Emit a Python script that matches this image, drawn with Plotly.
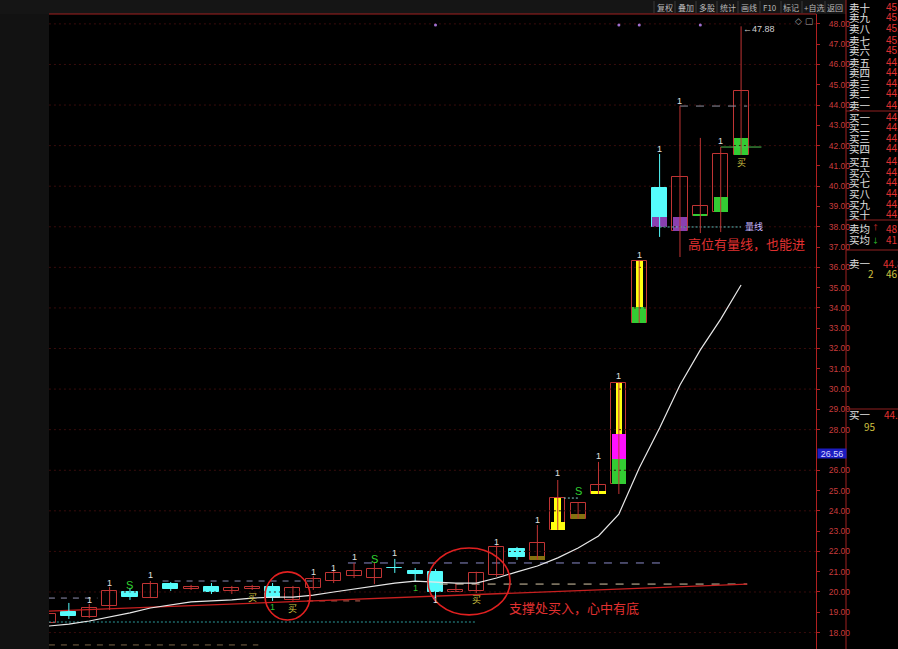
import plotly.graph_objects as go

W, H = 898, 649

# ---------------- data ----------------
idx = list(range(35))
opens  = [18.47, 19.01, 18.77, 19.31, 20.00, 19.70, 20.39, 20.15, 20.25, 20.05,
          20.15, 20.25, 19.61, 20.20, 20.54, 20.79, 20.69, 21.20, 21.03, 20.99,
          20.00, 20.05, 20.84, 22.12, 21.58, 23.06, 23.60, 24.83, 25.32, 33.26,
          39.91, 37.79, 38.53, 38.73, 41.54]
closes = [18.92, 18.82, 19.21, 20.05, 19.75, 20.39, 20.15, 20.25, 20.00, 20.20,
          20.25, 19.70, 20.20, 20.64, 20.94, 21.03, 21.13, 21.16, 20.89, 20.00,
          20.10, 20.94, 22.22, 21.72, 22.41, 24.63, 24.39, 25.27, 30.30, 36.31,
          37.99, 40.45, 39.02, 41.59, 44.69]
highs  = [18.97, 19.46, 19.41, 20.25, 20.20, 20.54, 20.49, 20.35, 20.44, 20.30,
          20.35, 20.44, 20.30, 20.79, 21.08, 21.43, 21.48, 21.63, 21.18, 21.13,
          20.44, 21.00, 22.30, 22.22, 23.30, 25.52, 24.39, 26.41, 30.30, 36.31,
          41.59, 43.95, 42.38, 41.93, 47.88]
lows   = [18.42, 18.67, 18.72, 19.11, 19.61, 19.70, 20.05, 20.10, 19.90, 19.90,
          20.10, 19.56, 19.56, 20.10, 20.44, 20.69, 20.39, 20.94, 20.54, 19.70,
          20.00, 19.95, 20.75, 21.58, 21.58, 23.06, 23.60, 24.83, 24.83, 33.26,
          37.50, 36.51, 37.69, 37.74, 41.54]
ma_line = [18.32, 18.42, 18.57, 18.77, 18.97, 19.21, 19.36, 19.51, 19.56, 19.61,
           19.70, 19.75, 19.75, 19.85, 20.00, 20.15, 20.30, 20.44, 20.54, 20.49,
           20.44, 20.44, 20.69, 20.99, 21.28, 21.68, 22.17, 22.76, 23.84, 26.11,
           28.08, 30.20, 31.93, 33.45, 35.13]

# indicator fills inside candle bodies
ov_idx   = [24, 25, 25, 26, 27, 28, 28, 28, 29, 29, 30, 31, 32, 33, 34]
ov_lo    = [21.58, 23.45, 23.06, 23.60, 24.83, 27.79, 26.55, 25.32, 34.05, 33.26,
            37.99, 37.79, 38.53, 38.73, 41.54]
ov_hi    = [21.77, 24.63, 23.45, 23.84, 24.98, 30.30, 27.79, 26.55, 36.31, 34.05,
            38.48, 38.48, 38.63, 39.47, 42.38]
ov_color = ["olive", "yellow", "yellow", "olive", "yellow", "yellow", "magenta",
            "green", "yellow", "green", "purple", "purple", "green", "green", "green"]
ov_narrow = [False, True, False, False, False, True, False, False, True, False,
             False, False, False, False, False]

# signal labels
lab_idx   = [0, 2, 3, 4, 5, 10, 11, 12, 13, 14, 15, 16, 17, 18, 19, 21, 22, 24,
             25, 26, 27, 28, 29, 30, 31, 33, 34]
lab_price = [19.45, 19.61, 20.44, 20.35, 20.84, 19.75, 19.26, 19.21, 20.99, 21.18,
             21.72, 21.63, 21.92, 20.20, 19.61, 19.65, 22.46, 23.55, 25.86, 24.98,
             26.70, 30.65, 36.61, 41.83, 44.20, 42.23, 41.19]
lab_text  = ["1", "1", "1", "S", "1", "买", "1", "买", "1", "1", "1", "S", "1", "1",
             "1", "买", "1", "1", "1", "S", "1", "1", "1", "1", "1", "1", "买"]
lab_kind  = ["g1", "w", "w", "S", "w", "b", "g1", "b", "w", "w", "w", "S", "w", "g1",
             "w", "b", "w", "w", "w", "S", "w", "w", "w", "w", "w", "w", "b"]

# horizontal level lines
lvl_price = [17.39, 18.52, 19.70, 20.54, 21.43, 20.39, 19.56, 43.95, 37.99, 41.93, 24.63]
lvl_x0    = [0.02, 0.02, 0.02, 5.6, 14.7, 19.2, 12.7, 31.0, 30.0, 33.0, 25.3]
lvl_x1    = [10.3, 21.0, 2.4, 13.3, 30.4, 34.3, 15.3, 34.3, 34.0, 35.0, 26.0]
lvl_color = ["#7a6446", "#2a9a9a", "#9090b0", "#8a8ab0", "#8a8ac8", "#d8c8a8",
             "#c06050", "#9090a0", "#60c0c0", "#50c050", "#80d0d0"]
lvl_dash  = ["6px,6px", "2px,2px", "6px,6px", "6px,6px", "8px,8px", "8px,8px",
             "6px,6px", "8px,8px", "2px,2px", "solid", "2px,2px"]

trend_x = [0.02, 34.3]
trend_y = [19.06, 20.39]

top_dot_idx = [19, 28, 29, 32]
top_dot_price = [47.94, 47.94, 47.94, 47.94]

grid_levels = list(range(18, 49, 2))
tick_vals = [v for v in range(18, 49) if v != 27]

ell_x0 = [10.63, 18.63]
ell_x1 = [12.84, 22.66]
ell_y0 = [18.62, 18.87]
ell_y1 = [20.99, 22.17]

toolbar = ["复权", "叠加", "多股", "统计", "画线", "F10", "标记", "+自选", "返回"]
toolbar_x = [665, 686, 707, 728, 749, 770, 791, 814, 835]

book_names = ["卖十", "卖九", "卖八", "卖七", "卖六", "卖五", "卖四", "卖三", "卖二", "卖一",
              "买一", "买二", "买三", "买四", "买五", "买六", "买七", "买八", "买九", "买十"]
book_vals = ["45.", "45.", "45.", "45.", "45.", "44.", "44.", "44.", "44.", "44.",
             "44.", "44.", "44.", "44.", "44.", "44.", "44.", "44.", "44.", "44."]

# ---------------- colours ----------------
RED = "#c03434"
CYAN = "#55fcfc"
FILL = {"yellow": "#ffff10", "magenta": "#ff10ff", "green": "#33cc33",
        "purple": "#8a40b0", "olive": "#857210"}
LABC = {"w": "#e0e0e0", "g1": "#30c030", "S": "#30d030", "b": "#d0c040"}

CW = 0.74
fig = go.Figure()

# grid
for g in grid_levels:
    fig.add_trace(go.Scatter(x=[0.02, 37.68], y=[g, g], mode="lines",
                             line=dict(color="#3a0c0c", width=1, dash="2px,3px"),
                             hoverinfo="skip", showlegend=False))

# level lines
for p, a, b, c, d in zip(lvl_price, lvl_x0, lvl_x1, lvl_color, lvl_dash):
    fig.add_trace(go.Scatter(x=[a, b], y=[p, p], mode="lines",
                             line=dict(color=c, width=1, dash=d),
                             hoverinfo="skip", showlegend=False))

fig.add_trace(go.Scatter(x=trend_x, y=trend_y, mode="lines",
                         line=dict(color="#c82020", width=1.3),
                         hoverinfo="skip", showlegend=False))

# wicks
up = [c >= o for o, c in zip(opens, closes)]
for is_up, col in [(True, RED), (False, CYAN)]:
    xs, ys = [], []
    for i in idx:
        if up[i] == is_up:
            xs += [i, i, None]
            ys += [lows[i], highs[i], None]
    fig.add_trace(go.Scatter(x=xs, y=ys, mode="lines", line=dict(color=col, width=1),
                             hoverinfo="skip", showlegend=False))

# bodies
for is_up in (True, False):
    xs = [i for i in idx if up[i] == is_up]
    base = [min(opens[i], closes[i]) for i in xs]
    hgt = [max(abs(closes[i] - opens[i]), 0.04) for i in xs]
    fig.add_trace(go.Bar(x=xs, y=hgt, base=base, width=CW,
                         marker=dict(color="#000000" if is_up else CYAN,
                                     line=dict(color=RED if is_up else CYAN, width=1)),
                         hoverinfo="skip", showlegend=False))

# indicator fills
for narrow in (False, True):
    sel = [k for k in range(len(ov_idx)) if ov_narrow[k] == narrow]
    fig.add_trace(go.Bar(x=[ov_idx[k] for k in sel],
                         y=[ov_hi[k] - ov_lo[k] for k in sel],
                         base=[ov_lo[k] for k in sel],
                         width=0.33 if narrow else CW - 0.04,
                         marker=dict(color=[FILL[ov_color[k]] for k in sel], line=dict(width=0)),
                         hoverinfo="skip", showlegend=False))

# moving average
fig.add_trace(go.Scatter(x=idx, y=ma_line, mode="lines",
                         line=dict(color="#e8e8e8", width=1.2),
                         hoverinfo="skip", showlegend=False))

fig.add_trace(go.Scatter(x=top_dot_idx, y=top_dot_price, mode="markers",
                         marker=dict(color="#a070d0", size=3),
                         hoverinfo="skip", showlegend=False))

ann = []
for i, p, t, k in zip(lab_idx, lab_price, lab_text, lab_kind):
    ann.append(dict(x=i, y=p, xref="x", yref="y", text=t, showarrow=False,
                    xanchor="center", yanchor="middle",
                    font=dict(color=LABC[k], size=9 if t != "S" else 11,
                              family="Noto Sans CJK SC" if t == "买" else "Liberation Sans")))

ann.append(dict(x=34, y=47.75, xref="x", yref="y", text="←47.88", showarrow=False,
                xanchor="left", yanchor="middle",
                font=dict(color="#d0d0d0", size=9, family="Liberation Sans")))
ann.append(dict(x=34.1, y=37.99, xref="x", yref="y", text="量线", showarrow=False,
                xanchor="left", yanchor="middle",
                font=dict(color="#c8b8ff", size=9, family="Noto Sans CJK SC")))
ann.append(dict(x=25.8, y=19.26, xref="x", yref="y", text="支撑处买入，心中有底", showarrow=False,
                xanchor="center", yanchor="middle",
                font=dict(color="#e03030", size=13, family="Noto Sans CJK SC")))
ann.append(dict(x=34.29, y=37.2, xref="x", yref="y", text="高位有量线，也能进", showarrow=False,
                xanchor="center", yanchor="middle",
                font=dict(color="#e03030", size=13, family="Noto Sans CJK SC")))

def px(x):
    return x / W

def py(y):
    return 1 - y / H

# price box
ann.append(dict(x=px(817), y=26.56, xref="paper", yref="y", text="26.56", showarrow=False,
                xanchor="left", yanchor="bottom", bgcolor="#1c1cc0", width=28, height=9,
                borderpad=0, font=dict(color="#d8d8ff", size=9, family="Liberation Sans")))

# toolbar
for t, x in zip(toolbar, toolbar_x):
    ann.append(dict(x=px(x), y=py(7), xref="paper", yref="paper", text=t, showarrow=False,
                    xanchor="center", yanchor="middle",
                    font=dict(color="#b8b8b8", size=8, family="Noto Sans CJK SC")))
ann.append(dict(x=px(798), y=py(21), xref="paper", yref="paper", text="◇", showarrow=False,
                xanchor="center", yanchor="middle", font=dict(color="#a0a0a0", size=9)))
ann.append(dict(x=px(809), y=py(21), xref="paper", yref="paper", text="▢", showarrow=False,
                xanchor="center", yanchor="middle", font=dict(color="#a0a0a0", size=9)))

# order book
book_y = [7, 18, 29, 40, 51, 62, 73, 83, 94, 106, 117, 128, 138, 149, 161, 172, 183, 193, 204, 214]
for n, v, y in zip(book_names, book_vals, book_y):
    ann.append(dict(x=px(847), y=py(y), xref="paper", yref="paper", text=n, showarrow=False,
                    xanchor="left", yanchor="middle", height=11,
                    font=dict(color="#e0e0e0", size=10.5, family="Noto Sans CJK SC")))
    ann.append(dict(x=px(884), y=py(y), xref="paper", yref="paper", text=v, showarrow=False,
                    xanchor="left", yanchor="middle", height=11,
                    font=dict(color="#e03030", size=10, family="Liberation Sans")))
extra = [(847, 228, "卖均", "#e0e0e0", 10.5), (870, 226, "↑", "#e03030", 7),
         (884, 228, "48.", "#e03030", 10),
         (847, 239, "买均", "#e0e0e0", 10.5), (870, 239, "↓", "#30c030", 7),
         (884, 239, "41.", "#e03030", 10),
         (847, 263, "卖一", "#e0e0e0", 10.5), (881, 263, "44.8", "#e03030", 10),
         (866, 274, "2", "#d0c040", 10), (884, 274, "46", "#d0c040", 10),
         (847, 414, "买一", "#e0e0e0", 10.5), (882, 414, "44.7", "#e03030", 10),
         (862, 426, "95", "#d0c040", 10)]
for x, y, t, c, s in extra:
    ann.append(dict(x=px(x), y=py(y), xref="paper", yref="paper", text=t, showarrow=False,
                    xanchor="left", yanchor="middle", height=11,
                    font=dict(color=c, size=s, family="Noto Sans CJK SC")))

shapes = [
    dict(type="rect", xref="paper", yref="paper", x0=0, x1=px(49), y0=0, y1=1,
         fillcolor="#121212", line=dict(width=0), layer="below"),
    dict(type="rect", xref="paper", yref="paper", x0=0, x1=px(846), y0=py(14), y1=1,
         fillcolor="#151515", line=dict(width=0), layer="below"),
    dict(type="line", xref="paper", yref="paper", x0=px(49), x1=px(816), y0=py(14), y1=py(14),
         line=dict(color="#a02020", width=1.2)),
    dict(type="line", xref="paper", yref="paper", x0=px(846), x1=px(846), y0=0, y1=1,
         line=dict(color="#a02020", width=1)),
]
for x in [654, 675, 696, 717, 738, 760, 781, 802, 825]:
    shapes.append(dict(type="line", xref="paper", yref="paper", x0=px(x), x1=px(x),
                       y0=py(13), y1=py(1), line=dict(color="#3a3a3a", width=1)))
for y in [111, 220, 250, 409]:
    shapes.append(dict(type="line", xref="paper", yref="paper", x0=px(846), x1=1,
                       y0=py(y), y1=py(y), line=dict(color="#902020", width=1)))
for a, b, c, d in zip(ell_x0, ell_x1, ell_y0, ell_y1):
    shapes.append(dict(type="circle", xref="x", yref="y", x0=a, x1=b, y0=c, y1=d,
                       line=dict(color="#e02020", width=1.6)))

fig.update_layout(
    width=W, height=H, margin=dict(l=0, r=0, t=0, b=0),
    paper_bgcolor="#000000", plot_bgcolor="#000000",
    barmode="overlay", bargap=0, showlegend=False,
    annotations=ann, shapes=shapes,
    xaxis=dict(domain=[px(49), px(816)], range=[0.0245, 37.678], visible=False,
               showgrid=False, zeroline=False),
    yaxis=dict(domain=[0, py(14)], range=[17.19, 48.487], side="right",
               showgrid=False, zeroline=False, showline=True, linecolor="#b02020",
               linewidth=1, tickvals=tick_vals, ticktext=[f"{v:.2f}" for v in tick_vals],
               ticks="outside", ticklen=3, tickcolor="#b02020",
               tickfont=dict(color="#c83c3c", size=8.5, family="Liberation Sans"),
               ticklabelstandoff=7),
)

fig.write_html("out.html", config={"displayModeBar": False},
               post_script="document.body.style.margin='0';document.body.style.background='#000';")
